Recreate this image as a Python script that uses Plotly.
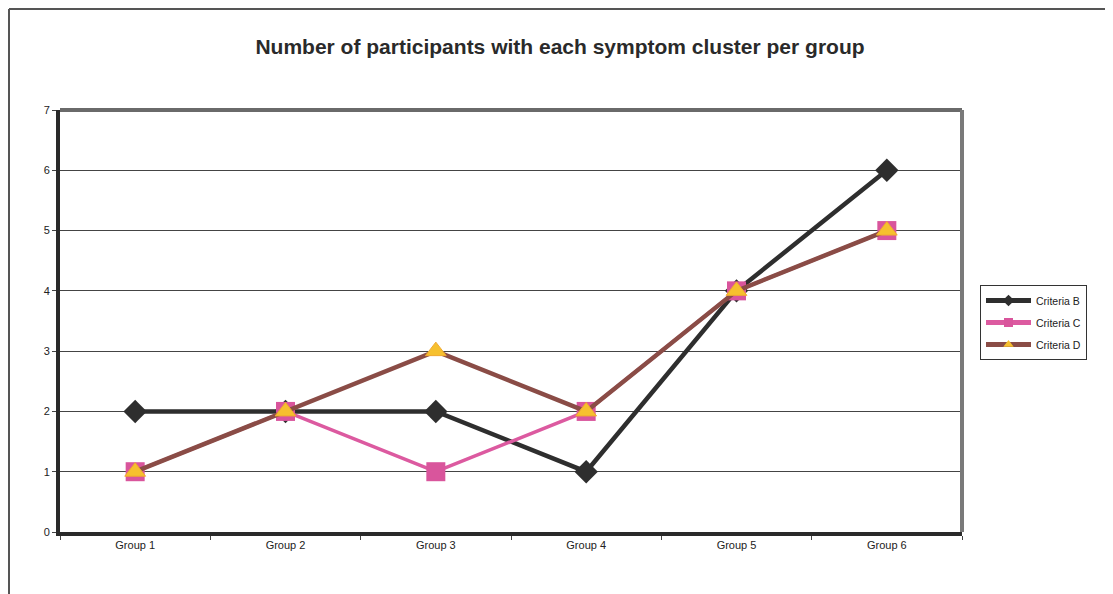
import plotly.graph_objects as go

groups = ["Group 1", "Group 2", "Group 3", "Group 4", "Group 5", "Group 6"]
criteria_b = [2, 2, 2, 1, 4, 6]
criteria_c = [1, 2, 1, 2, 4, 5]
criteria_d = [1, 2, 3, 2, 4, 5]
series_names = ["Criteria B", "Criteria C", "Criteria D"]

# the page body adds an 8px offset, so the figure is laid out in page coords minus 8
OFF = 8
W, H = 1113 - OFF, 594 - OFF
PL, PR, PT, PB = 60, 962, 110, 532  # plot area in page pixels
L, R, T, B = PL - OFF, W - (PR - OFF), PT - OFF, H - (PB - OFF)

styles = [
    dict(line=dict(color="#2e2e2e", width=4.5), symbol="diamond", size=18, mcolor="#2e2e2e",
         mline=dict(width=0)),
    dict(line=dict(color="#dc5aa0", width=3.5), symbol="square", size=19, mcolor="#d9559c",
         mline=dict(width=0)),
    dict(line=dict(color="#8a4c46", width=4.5), symbol="triangle-up", size=18, mcolor="#f6c02e",
         mline=dict(color="#f0a830", width=1)),
]
values = [criteria_b, criteria_c, criteria_d]

fig = go.Figure()
for name, vals, st in zip(series_names, values, styles):
    fig.add_trace(go.Scatter(x=groups, y=vals, name=name, mode="lines+markers",
                             line=st["line"], showlegend=False, legendgroup=name,
                             marker=dict(symbol=st["symbol"], size=st["size"], color=st["mcolor"],
                                         line=st["mline"])))
# legend entries (smaller markers, as in the reference legend)
for name, st in zip(series_names, styles):
    fig.add_trace(go.Scatter(x=[None], y=[None], name=name, mode="lines+markers",
                             line=dict(color=st["line"]["color"], width=5),
                             legendgroup=name, showlegend=True,
                             marker=dict(symbol=st["symbol"], size=9, color=st["mcolor"],
                                         line=dict(width=0))))

def px(x):
    return (x - OFF - L) / (W - L - R)

def py(y):
    return (H - B - (y - OFF)) / (H - T - B)

shapes = [
    # outer chart frame (left and top)
    dict(type="line", xref="paper", yref="paper", x0=px(9), x1=px(9), y0=py(9), y1=py(600),
         line=dict(color="#555555", width=2)),
    dict(type="line", xref="paper", yref="paper", x0=px(9), x1=px(1105), y0=py(9), y1=py(9),
         line=dict(color="#555555", width=2)),
    # plot area frame
    dict(type="line", xref="paper", yref="paper", x0=0, x1=1, y0=1, y1=1,
         line=dict(color="#6a6a6a", width=4)),
    dict(type="line", xref="paper", yref="paper", x0=1, x1=1, y0=0, y1=1,
         line=dict(color="#7a7a7a", width=4)),
]

fig.update_layout(
    width=W, height=H,
    margin=dict(l=L, r=R, t=T, b=B),
    paper_bgcolor="white", plot_bgcolor="white",
    title=dict(text="<b>Number of participants with each symptom cluster per group</b>",
               xref="container", yref="container",
               x=(560 - OFF) / W, xanchor="center", y=1 - (47 - OFF) / H, yanchor="middle",
               font=dict(family="Liberation Sans, Arial", size=21, color="#2a2a2a")),
    font=dict(family="Liberation Sans, Arial", size=11, color="#222222"),
    xaxis=dict(range=[-0.5, 5.5], showgrid=False, showline=True, linecolor="#2a2a2a",
               linewidth=4, ticks="outside", ticklen=4, tickcolor="#444444",
               tickson="boundaries", zeroline=False, fixedrange=True),
    yaxis=dict(range=[0, 7], dtick=1, showgrid=True, gridcolor="#444444", gridwidth=1,
               showline=True, linecolor="#2a2a2a", linewidth=4, ticks="outside",
               ticklen=4, tickcolor="#444444", zeroline=False, fixedrange=True),
    legend=dict(x=px(980), y=py(285), xanchor="left", yanchor="top",
                bordercolor="#333333", borderwidth=1, bgcolor="white",
                font=dict(size=10.5, family="Liberation Sans, Arial", color="#222222"),
                tracegroupgap=3, itemwidth=45),
    shapes=shapes,
    showlegend=True,
)

fig.write_html("out.html")
